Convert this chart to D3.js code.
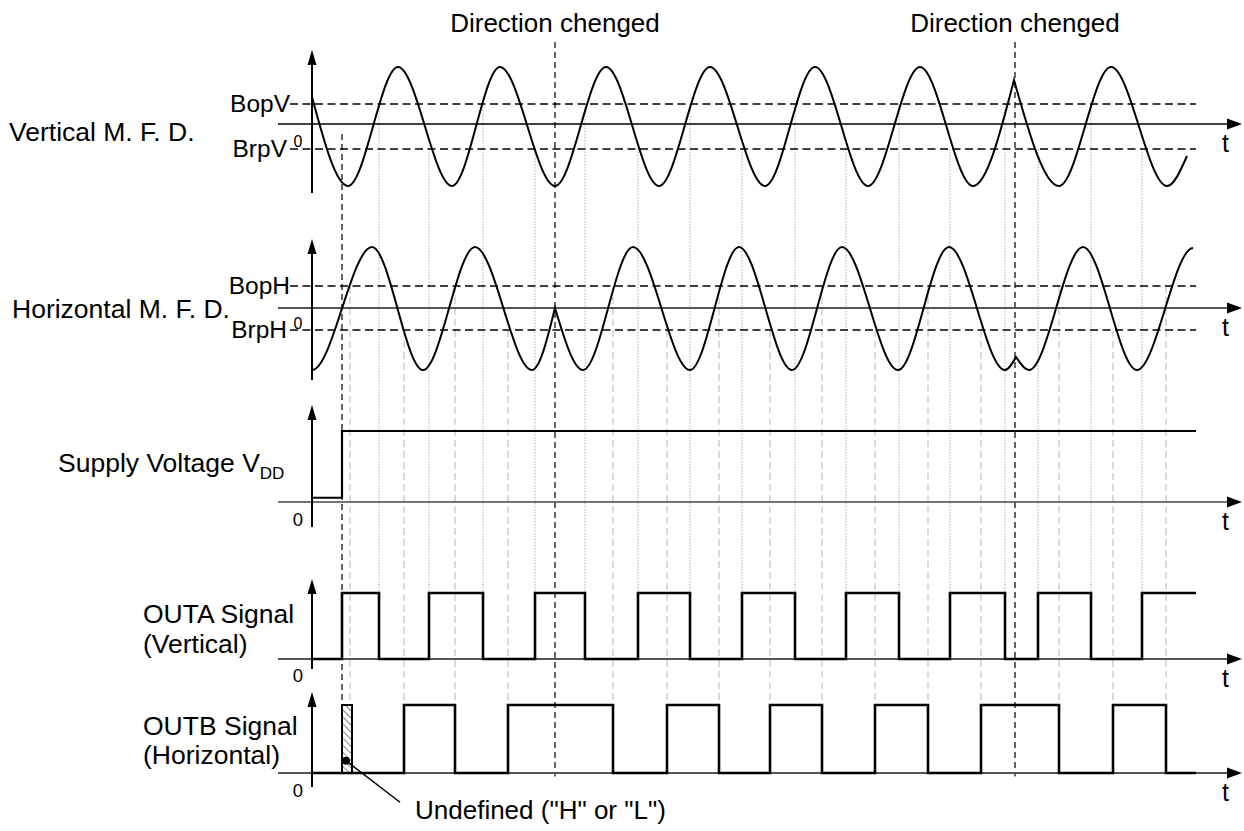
<!DOCTYPE html>
<html>
<head>
<meta charset="utf-8">
<script src="https://cdn.jsdelivr.net/npm/d3@7"></script>
<style>
  html, body { margin: 0; padding: 0; background: #fff; }
  svg { display: block; font-family: "Liberation Sans", Arial, Helvetica, sans-serif; }
</style>
</head>
<body>
<div id="chart"></div>
<script>
// time in arbitrary units (t)
const supplyOnTime = 3.0;
const undefinedEndTime = 3.8;
const directionChangeTimes = [24.3, 70.3];
const directionLabels = ["Direction chenged", "Direction chenged"];

// magnetic flux density waves: [t, value, kind] (kind: extremum by default)
const verticalMFD = [
  [0, 1.35, "end"], [3.6, -3.1], [8.6, 2.85], [14.0, -3.1], [18.8, 2.85], [24.3, -3.1],
  [29.4, 2.85], [34.7, -3.1], [39.8, 2.85], [45.3, -3.1], [50.3, 2.85], [55.6, -3.1],
  [60.8, 2.85], [66.1, -3.1], [70.2, 2.2, "cusp"], [74.7, -3.1], [79.9, 2.85],
  [85.5, -3.1], [87.5, -1.6, "end"]
];
const horizontalMFD = [
  [0, -3.1], [6.0, 3.05], [11.1, -3.1], [16.3, 3.05], [22.0, -3.1], [24.3, 0, "cusp"],
  [27.1, -3.1], [32.1, 3.05], [37.8, -3.1], [42.7, 3.05], [48.0, -3.1], [53.0, 3.05],
  [58.6, -3.1], [63.7, 3.05], [69.3, -3.1], [70.4, -2.45, "cusp"], [71.7, -3.1],
  [77.1, 3.05], [82.5, -3.1], [88.1, 3.0]
];
const verticalThresholds = [["BopV", 1.0], ["BrpV", -1.25]];
const horizontalThresholds = [["BopH", 1.1], ["BrpH", -1.1]];

// step signals: [t, level]
const supplyVoltage = [[0, 0.3], [3.0, 5], [88.4, 5]];
const outA = [
  [0, 0], [3.0, 1], [6.7, 0], [11.7, 1], [17.1, 0], [22.3, 1], [27.3, 0], [32.6, 1],
  [37.8, 0], [43.0, 1], [48.3, 0], [53.4, 1], [58.7, 0], [63.8, 1], [69.3, 0],
  [72.6, 1], [77.9, 0], [83.0, 1], [88.4, 1]
];
const outB = [
  [0, 0], [9.2, 1], [14.3, 0], [19.6, 1], [30.1, 0], [35.5, 1], [40.7, 0], [45.8, 1],
  [51.0, 0], [56.3, 1], [61.6, 0], [66.9, 1], [74.7, 0], [80.1, 1], [85.4, 0], [88.4, 0]
];

const width = 1244, height = 831;
const svg = d3.select("#chart").append("svg")
  .attr("width", width).attr("height", height);

const x = d3.scaleLinear().domain([0, 93]).range([312, 1242]);
const axisStart = -3.4, thrStart = -2.2, signalEnd = 88.4;

// panel layout: zero line, pixels per unit, y-axis extent
const layout = {
  v:  { zero: 124, px: 20,   top: 50,  bottom: 193, zeroColor: "#000", zeroWidth: 1.4 },
  h:  { zero: 308, px: 20,   top: 239, bottom: 380, zeroColor: "#555", zeroWidth: 2 },
  s:  { zero: 502, px: 14.2, top: 405, bottom: 527, zeroColor: "#444", zeroWidth: 1.6 },
  a:  { zero: 659, px: 66,   top: 579, bottom: 669, zeroColor: "#555", zeroWidth: 2 },
  b:  { zero: 773, px: 68,   top: 692, bottom: 787, zeroColor: "#555", zeroWidth: 2 }
};
const yScale = {};
Object.keys(layout).forEach(k => {
  const p = layout[k];
  yScale[k] = d3.scaleLinear().domain([0, 1]).range([p.zero, p.zero - p.px]);
});

const defs = svg.append("defs");
defs.append("pattern")
  .attr("id", "hatch").attr("patternUnits", "userSpaceOnUse")
  .attr("width", 5).attr("height", 5)
  .attr("patternTransform", "rotate(-45)")
  .append("line").attr("x1", 0).attr("y1", 0).attr("x2", 0).attr("y2", 5)
  .attr("stroke", "#888").attr("stroke-width", 2);

const gGuides = svg.append("g");
const gAxes = svg.append("g");
const gMarks = svg.append("g");
const gText = svg.append("g").attr("fill", "#000");

// guide lines (drawn first, under everything)
function guide(t, y0, y1, dash, color) {
  gGuides.append("line")
    .attr("x1", x(t)).attr("x2", x(t)).attr("y1", y0).attr("y2", y1)
    .attr("stroke", color).attr("stroke-width", 1.2).attr("stroke-dasharray", dash);
}
// OUTA edges <- vertical field crossing thresholds
outA.forEach((d, i) => {
  if (i === 0 || d[0] <= supplyOnTime || d[0] >= signalEnd) return;
  const thr = d[1] === 1 ? verticalThresholds[1][1] : verticalThresholds[0][1];
  guide(d[0], yScale.v(thr), yScale.a(1), "1.5,1.5", "#bdbdbd");
});
// OUTB edges <- horizontal field crossing thresholds
guide(undefinedEndTime, yScale.h(horizontalThresholds[0][1]), yScale.b(1), "7,4", "#c4c4c4");
outB.forEach((d, i) => {
  if (i === 0 || d[0] >= signalEnd) return;
  const thr = d[1] === 1 ? horizontalThresholds[1][1] : horizontalThresholds[0][1];
  guide(d[0], yScale.h(thr), yScale.b(1), "7,4", "#c4c4c4");
});

// dark dashed markers: supply on, direction changes
gGuides.append("line")
  .attr("x1", x(supplyOnTime)).attr("x2", x(supplyOnTime))
  .attr("y1", yScale.v(-0.5)).attr("y2", yScale.b(1))
  .attr("stroke", "#333").attr("stroke-width", 1.5).attr("stroke-dasharray", "6,4");
directionChangeTimes.forEach(t => {
  gGuides.append("line")
    .attr("x1", x(t)).attr("x2", x(t)).attr("y1", 42).attr("y2", yScale.b(-0.05))
    .attr("stroke", "#333").attr("stroke-width", 1.5).attr("stroke-dasharray", "6,4");
});

// axes with arrowheads
Object.keys(layout).forEach(k => {
  const p = layout[k], x0 = x(0);
  gAxes.append("line")
    .attr("x1", x(axisStart)).attr("x2", x(93) - 12).attr("y1", p.zero).attr("y2", p.zero)
    .attr("stroke", p.zeroColor).attr("stroke-width", p.zeroWidth);
  gAxes.append("path")
    .attr("d", `M${x(93)},${p.zero}L${x(93) - 15},${p.zero - 5.5}L${x(93) - 15},${p.zero + 5.5}Z`)
    .attr("fill", "#000");
  gAxes.append("line")
    .attr("x1", x0).attr("x2", x0).attr("y1", p.bottom).attr("y2", p.top + 10)
    .attr("stroke", "#000").attr("stroke-width", 2);
  gAxes.append("path")
    .attr("d", `M${x0},${p.top}L${x0 - 4.5},${p.top + 15}L${x0 + 4.5},${p.top + 15}Z`)
    .attr("fill", "#000");
  gText.append("text").attr("x", 1222).attr("y", p.zero + 28)
    .attr("font-size", 25).text("t");
});

// thresholds
function thresholds(list, ys) {
  list.forEach(([name, v], i) => {
    gAxes.append("line")
      .attr("x1", x(thrStart)).attr("x2", x(signalEnd))
      .attr("y1", ys(v)).attr("y2", ys(v))
      .attr("stroke", "#000").attr("stroke-width", 1.3).attr("stroke-dasharray", "8,4.5");
    gText.append("text")
      .attr("x", i === 0 ? x(thrStart) : x(thrStart) - 3).attr("y", ys(v) + 8)
      .attr("text-anchor", "end").attr("font-size", 24.5).text(name);
  });
}
thresholds(verticalThresholds, yScale.v);
thresholds(horizontalThresholds, yScale.h);

// smooth wave: cubic hermite, flat at extrema, one-sided slope at cusps/ends
function wavePath(pts, ys) {
  const P = pts.map(d => ({ x: x(d[0]), y: ys(d[1]), kind: d[2] || "ext" }));
  const path = d3.path();
  path.moveTo(P[0].x, P[0].y);
  for (let i = 0; i < P.length - 1; i++) {
    const a = P[i], b = P[i + 1], dx = b.x - a.x, s = (b.y - a.y) / dx;
    const m0 = a.kind === "ext" ? 0 : 1.5 * s;
    const m1 = b.kind === "ext" ? 0 : 1.5 * s;
    path.bezierCurveTo(a.x + dx / 3, a.y + m0 * dx / 3, b.x - dx / 3, b.y - m1 * dx / 3, b.x, b.y);
  }
  return path.toString();
}
gMarks.append("path").attr("d", wavePath(verticalMFD, yScale.v))
  .attr("fill", "none").attr("stroke", "#000").attr("stroke-width", 2);
gMarks.append("path").attr("d", wavePath(horizontalMFD, yScale.h))
  .attr("fill", "none").attr("stroke", "#000").attr("stroke-width", 2);

// step signals
function stepLine(ys) {
  return d3.line().x(d => x(d[0])).y(d => ys(d[1])).curve(d3.curveStepAfter);
}
gMarks.append("path").attr("d", stepLine(yScale.s)(supplyVoltage))
  .attr("fill", "none").attr("stroke", "#000").attr("stroke-width", 2.2);
gMarks.append("path").attr("d", stepLine(yScale.a)(outA))
  .attr("fill", "none").attr("stroke", "#000").attr("stroke-width", 2.6);
gMarks.append("path").attr("d", stepLine(yScale.b)(outB))
  .attr("fill", "none").attr("stroke", "#000").attr("stroke-width", 2.6);

// undefined window on OUTB
gMarks.append("rect")
  .attr("x", x(supplyOnTime)).attr("y", yScale.b(1))
  .attr("width", x(undefinedEndTime + 0.2) - x(supplyOnTime))
  .attr("height", yScale.b(0) - yScale.b(1))
  .attr("fill", "url(#hatch)").attr("stroke", "#000").attr("stroke-width", 2);
gMarks.append("line")
  .attr("x1", x(3.4)).attr("y1", yScale.b(0.18)).attr("x2", x(8.8)).attr("y2", yScale.b(-0.43))
  .attr("stroke", "#000").attr("stroke-width", 1.5);
gMarks.append("circle").attr("cx", x(3.4)).attr("cy", yScale.b(0.18)).attr("r", 4).attr("fill", "#000");
gText.append("text").attr("x", x(10.3)).attr("y", 819).attr("font-size", 26)
  .text('Undefined ("H" or "L")');

// "0" marks at the axes
[["v", 147, 16], ["h", 329, 16], ["s", 526, 18.5], ["a", 682, 18.5], ["b", 797, 18.5]]
  .forEach(([k, y, fs]) => {
    gText.append("text").attr("x", 298).attr("y", y).attr("text-anchor", "middle")
      .attr("font-size", fs).text("0");
  });

// direction labels
directionChangeTimes.forEach((t, i) => {
  gText.append("text").attr("x", x(t)).attr("y", 32).attr("text-anchor", "middle")
    .attr("font-size", 26).text(directionLabels[i]);
});

// row labels
const rowFont = 26.5;
gText.append("text").attr("x", 9).attr("y", 141).attr("font-size", rowFont).text("Vertical M. F. D.");
gText.append("text").attr("x", 12).attr("y", 318).attr("font-size", rowFont).text("Horizontal M. F. D.");
const sup = gText.append("text").attr("x", 58).attr("y", 472).attr("font-size", rowFont);
sup.append("tspan").text("Supply Voltage V");
sup.append("tspan").attr("font-size", 17).attr("dy", 7).text("DD");
gText.append("text").attr("x", 143).attr("y", 623).attr("font-size", rowFont).text("OUTA Signal");
gText.append("text").attr("x", 143).attr("y", 653).attr("font-size", rowFont).text("(Vertical)");
gText.append("text").attr("x", 143).attr("y", 735).attr("font-size", rowFont).text("OUTB Signal");
gText.append("text").attr("x", 143).attr("y", 764).attr("font-size", rowFont).text("(Horizontal)");
</script>
</body>
</html>
